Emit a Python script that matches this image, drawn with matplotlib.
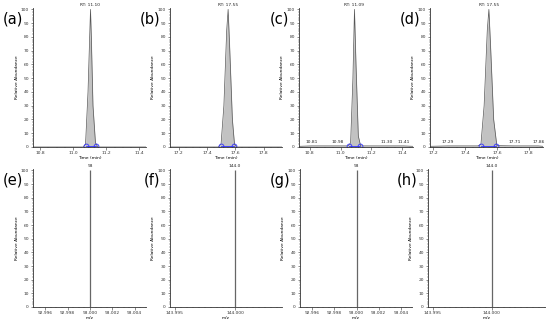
import matplotlib
matplotlib.use("Agg")
import matplotlib.pyplot as plt
from matplotlib.ticker import MultipleLocator, FixedLocator

# ---- Data: chromatograms (time in min, relative abundance %) ----
a_time = [10.76, 11.06, 11.075, 11.09, 11.105, 11.11, 11.12, 11.135, 11.15, 11.44]
a_int = [0, 0, 2, 40, 100, 80, 30, 3, 0, 0]
a_rt = "RT: 11.10"
a_bounds = [11.075, 11.14]

b_time = [17.14, 17.48, 17.50, 17.52, 17.54, 17.55, 17.56, 17.58, 17.595, 17.61, 17.93]
b_int = [0, 0, 2, 30, 85, 100, 75, 20, 2, 0, 0]
b_rt = "RT: 17.55"
b_bounds = [17.50, 17.59]

c_time = [10.73, 10.81, 10.98, 11.05, 11.065, 11.08, 11.09, 11.10, 11.115, 11.13, 11.30, 11.41, 11.47]
c_int = [0.5, 0.8, 0.8, 0.8, 3, 50, 100, 60, 8, 0.8, 0.8, 0.8, 0.5]
c_rt = "RT: 11.09"
c_bounds = [11.055, 11.125]
c_minor = ["10.81", "10.98", "11.30", "11.41"]
c_minor_x = [10.81, 10.98, 11.30, 11.41]

d_time = [17.18, 17.29, 17.48, 17.50, 17.52, 17.54, 17.55, 17.56, 17.58, 17.60, 17.71, 17.86, 17.89]
d_int = [0.5, 0.8, 0.8, 2, 30, 85, 100, 75, 20, 1, 0.8, 0.8, 0.5]
d_rt = "RT: 17.55"
d_bounds = [17.50, 17.595]
d_minor = ["17.29", "17.71", "17.86"]
d_minor_x = [17.29, 17.71, 17.86]

# ---- Data: mass spectra (m/z, relative abundance %) ----
e_mz = [93.000]
e_int = [100]
e_label = "93"
f_mz = [144.000]
f_int = [100]
f_label = "144.0"
g_mz = [93.000]
g_int = [100]
g_label = "93"
h_mz = [144.000]
h_int = [100]
h_label = "144.0"

mz93_ticks = [92.996, 92.998, 93.000, 93.002, 93.004]
mz93_labels = ["92.996", "92.998", "93.000", "93.002", "93.004"]
mz144_ticks = [143.995, 144.000]
mz144_labels = ["143.995", "144.000"]
rt11_ticks = [10.8, 11.0, 11.2, 11.4]
rt17_ticks = [17.2, 17.4, 17.6, 17.8]

W, H = 550, 324
fig = plt.figure(figsize=(5.5, 3.24), dpi=100)

def rect(x0, x1, ytop, ybot):
    return [x0 / W, 1 - ybot / H, (x1 - x0) / W, (ybot - ytop) / H]

FS = 3.2

def style(ax):
    for s in ["top", "right"]:
        ax.spines[s].set_visible(False)
    for s in ["left", "bottom"]:
        ax.spines[s].set_linewidth(0.6)
        ax.spines[s].set_color("#333333")
    ax.tick_params(axis="both", which="major", labelsize=FS, length=1.8, width=0.4,
                   pad=1.2, colors="#333333")
    ax.tick_params(axis="both", which="minor", length=1.0, width=0.3, colors="#333333")
    ax.set_ylim(0, 101)
    ax.yaxis.set_major_locator(MultipleLocator(10))
    ax.yaxis.set_minor_locator(MultipleLocator(2))

def chrom(ax, t, y, xlim, ticks, rt, bounds, minor_lbl=None, minor_x=None):
    style(ax)
    ax.fill_between(t, 0, y, color="#c2c2c2", lw=0)
    ax.plot(t, y, color="#555555", lw=0.5)
    ax.plot(bounds, [1, 1], color="#3030ff", lw=0.6)
    ax.plot(bounds, [1, 1], ls="none", marker="o", ms=3.5, mfc="none",
            mec="#3030ff", mew=0.6)
    ax.set_xlim(*xlim)
    ax.xaxis.set_major_locator(FixedLocator(ticks))
    ax.xaxis.set_minor_locator(MultipleLocator(0.05))
    ax.set_xticklabels([f"{v:.1f}" for v in ticks])
    ax.set_xlabel("Time (min)", fontsize=FS, labelpad=0.8)
    ax.set_ylabel("Relative Abundance", fontsize=FS, labelpad=1.5)
    i = y.index(max(y))
    ax.text(t[i], 101.5, rt, fontsize=FS, ha="center", va="bottom", color="#222222")
    if minor_lbl:
        for x, s in zip(minor_x, minor_lbl):
            ax.text(x, 2.0, s, fontsize=FS, ha="center", va="bottom", color="#222222")

def spec(ax, mz, inten, xlim, ticks, labels, lbl, minor_step):
    style(ax)
    ax.vlines(mz, 0, inten, color="#666666", lw=0.9)
    ax.set_xlim(*xlim)
    ax.xaxis.set_major_locator(FixedLocator(ticks))
    ax.xaxis.set_minor_locator(MultipleLocator(minor_step))
    ax.set_xticklabels(labels)
    ax.set_xlabel("m/z", fontsize=FS, labelpad=0.8)
    ax.set_ylabel("Relative Abundance", fontsize=FS, labelpad=1.5)
    ax.text(mz[0], 101.5, lbl, fontsize=FS, ha="center", va="bottom", color="#222222")

top = (8, 147)
bot = (169, 307)

axa = fig.add_axes(rect(33, 146, *top))
chrom(axa, a_time, a_int, (10.758, 11.44), rt11_ticks, a_rt, a_bounds)
axb = fig.add_axes(rect(170, 282, *top))
chrom(axb, b_time, b_int, (17.14, 17.93), rt17_ticks, b_rt, b_bounds)
axc = fig.add_axes(rect(299, 413, *top))
chrom(axc, c_time, c_int, (10.73, 11.47), rt11_ticks, c_rt, c_bounds, c_minor, c_minor_x)
axd = fig.add_axes(rect(430, 543, *top))
chrom(axd, d_time, d_int, (17.18, 17.89), rt17_ticks, d_rt, d_bounds, d_minor, d_minor_x)

axe = fig.add_axes(rect(33, 146, *bot))
spec(axe, e_mz, e_int, (92.9949, 93.005), mz93_ticks, mz93_labels, e_label, 0.0005)
axf = fig.add_axes(rect(170, 282, *bot))
spec(axf, f_mz, f_int, (143.9946, 144.0039), mz144_ticks, mz144_labels, f_label, 0.0005)
axg = fig.add_axes(rect(300, 412, *bot))
spec(axg, g_mz, g_int, (92.9949, 93.005), mz93_ticks, mz93_labels, g_label, 0.0005)
axh = fig.add_axes(rect(428, 545, *bot))
spec(axh, h_mz, h_int, (143.9946, 144.0045), mz144_ticks, mz144_labels, h_label, 0.0005)

letters = [("(a)", 23, 19), ("(b)", 160, 19), ("(c)", 289, 19), ("(d)", 420, 19),
           ("(e)", 23, 180), ("(f)", 160, 180), ("(g)", 290, 180), ("(h)", 418, 180)]
for s, x, y in letters:
    fig.text(x / W, 1 - y / H, s, fontsize=10.5, ha="right", va="center", color="black")

fig.savefig("out.png", dpi=100)
